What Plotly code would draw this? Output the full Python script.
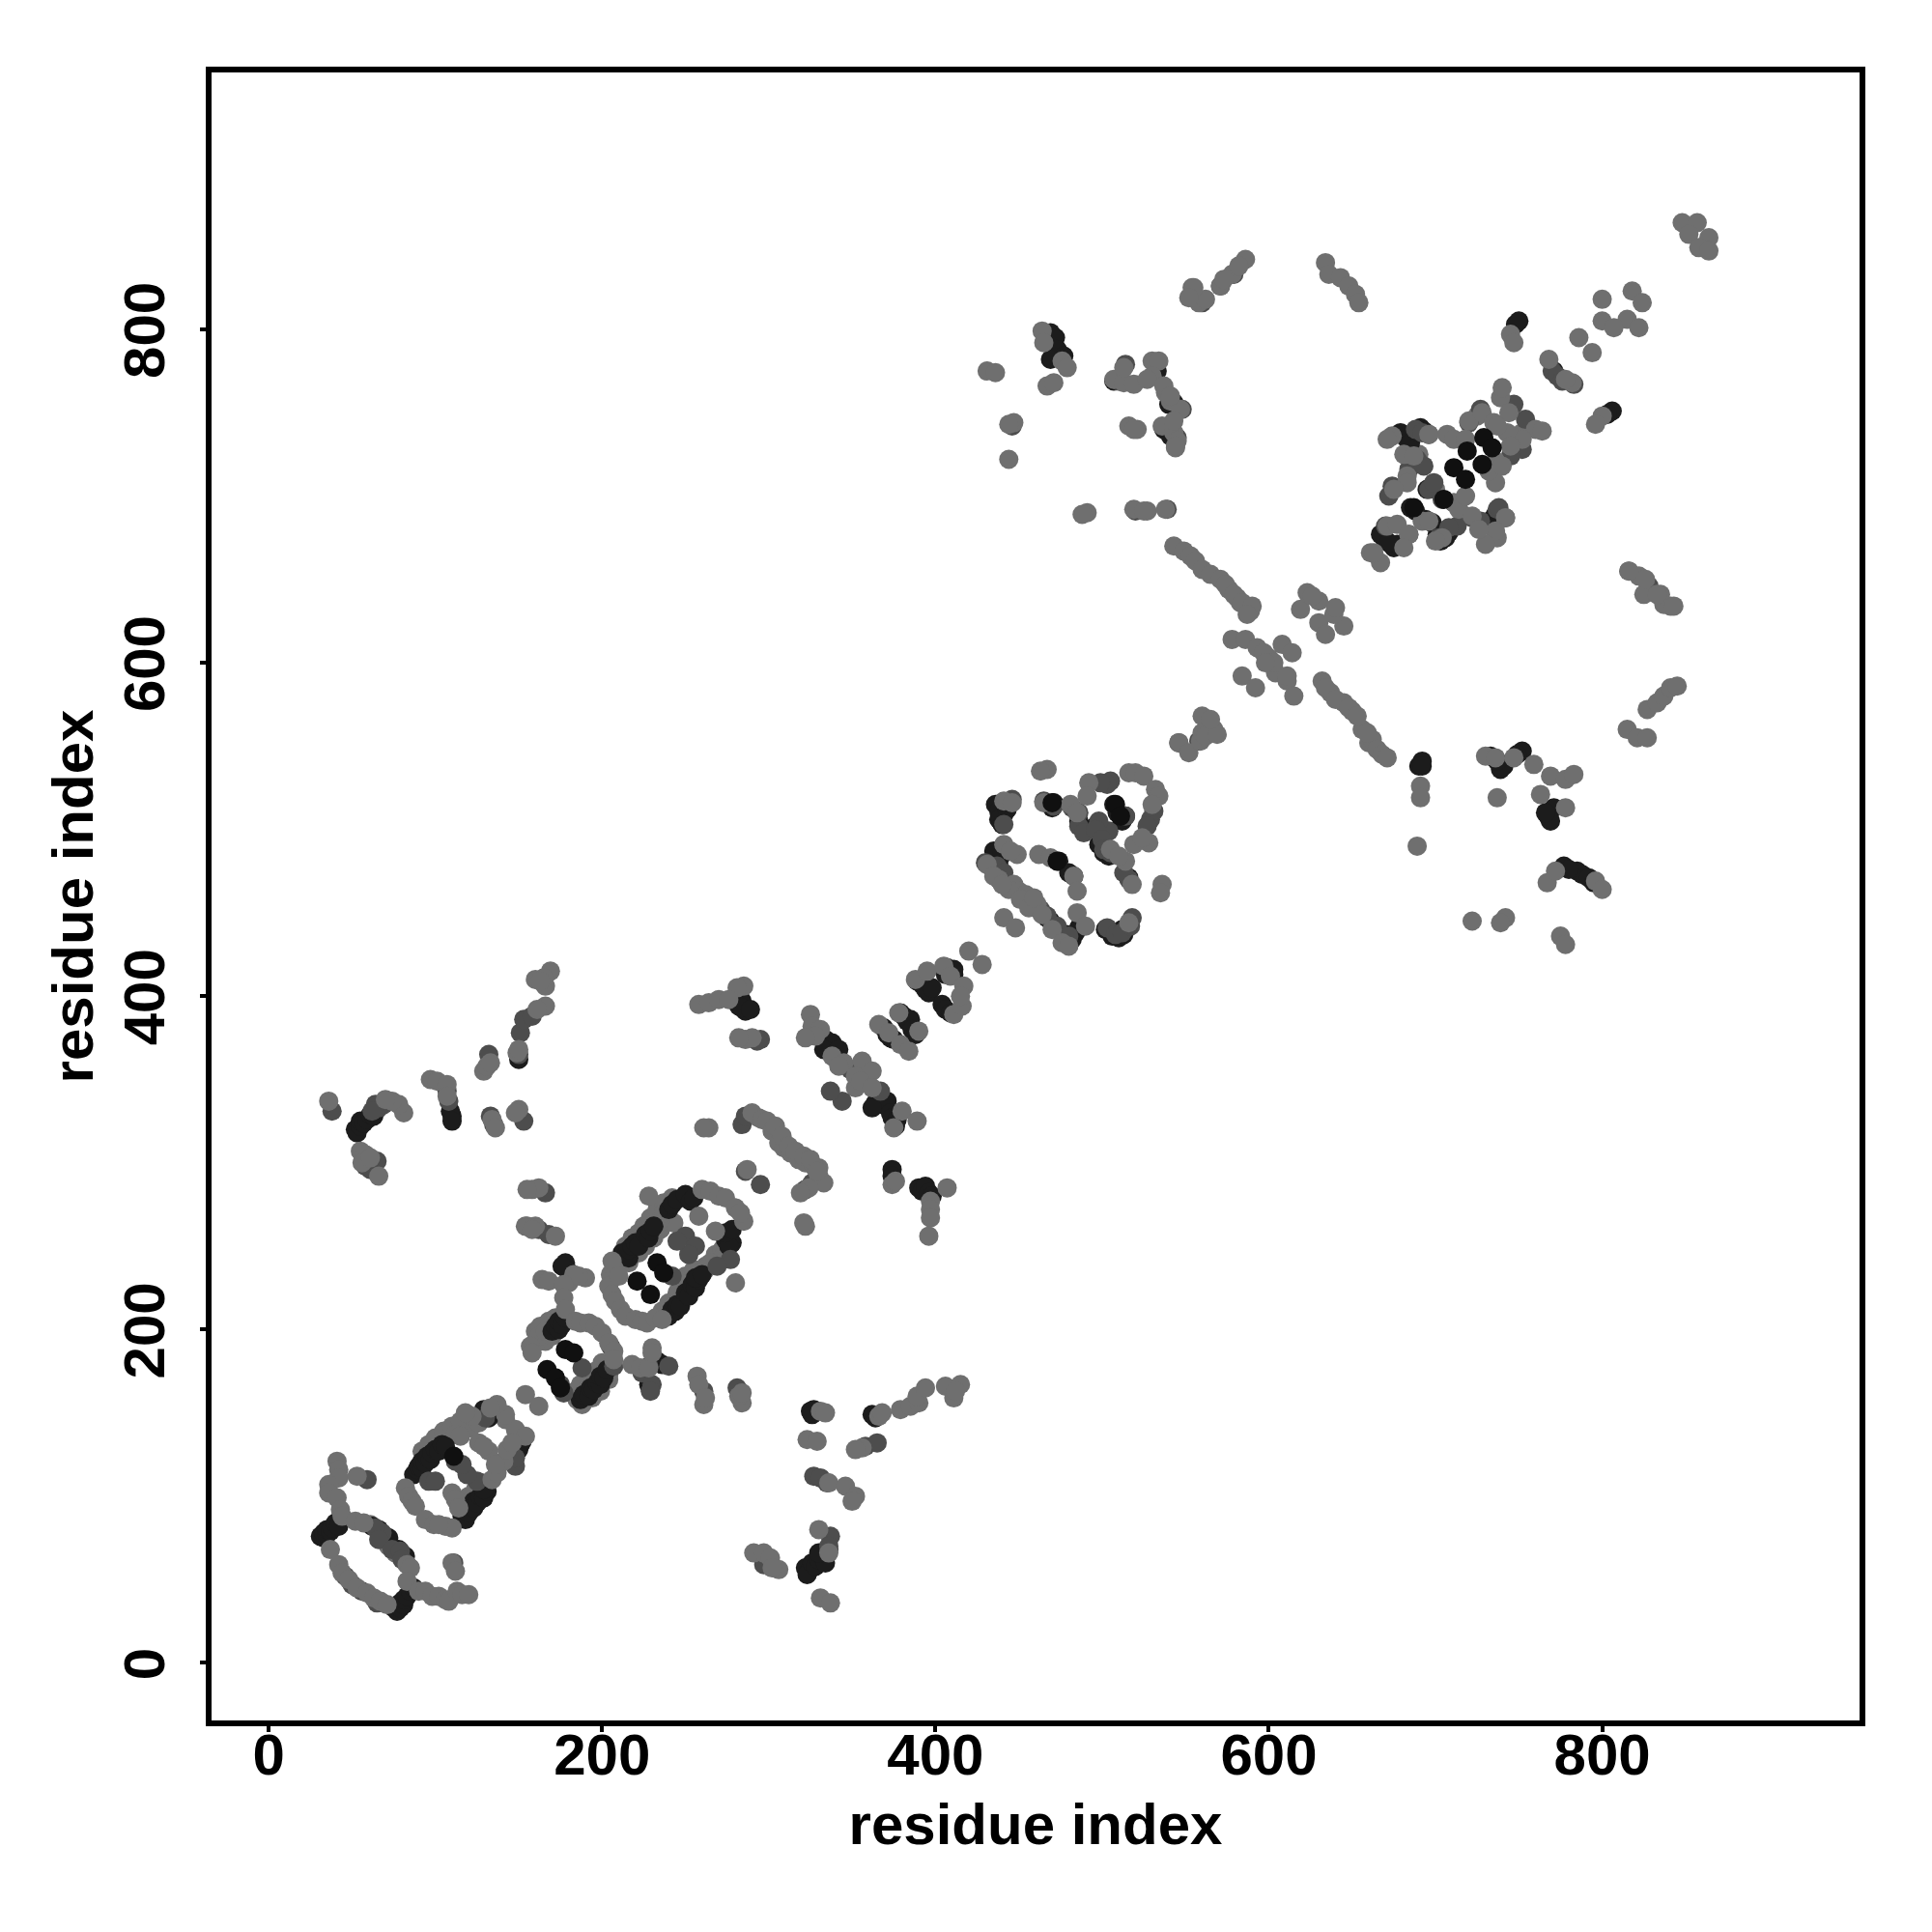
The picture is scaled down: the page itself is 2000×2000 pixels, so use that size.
import plotly.graph_objects as go

# residue-index pairs (x, y), by grey level and region
dark_low = [
 (31,76),(33,75),(33,78),(35,77),(35,80),(37,79),(38,81),(40,84),(42,82),
 (75,33),(77,31),(77,34),(79,33),(79,36),(81,35),(81,38),(83,40),(85,43),(87,45),
 (87,113),(89,116),(90,118),(92,117),(92,121),(94,120),(95,124),(97,122),(98,126),(100,128),(102,127),(104,131),(106,130),
 (116,88),(118,86),(118,91),(120,90),(121,94),(123,93),(123,97),(125,96),(127,100),(129,99),(131,103),(129,104),
 (150,128),(151,131),(150,134),(152,133),(132,147),(131,150),(129,152),
 (170,199),(172,202),(174,200),(174,205),(176,203),(178,207),
 (187,158),(189,161),(192,160),(193,165),(195,164),(197,168),(199,167),(199,172),(201,171),(203,176),
 (212,246),(214,244),(216,243),(216,248),(218,250),(220,252),(222,250),(226,257),(228,255),(229,259),(231,262),
 (240,208),(242,212),(244,211),(245,215),(247,214),(250,222),(252,220),(254,227),(256,225),(258,230),(256,231),(260,233),
 (240,272),(242,275),(245,278),(250,281),(253,277),(255,279),
 (274,254),(276,256),(278,252),(276,250),(274,258),(278,260),
 (178,240),(179,236),(176,238),(233,181),(236,179),(229,164),(228,167),
 (62,82),(66,80),(70,76),(72,75),(78,68),(82,64),
]
dark_mid = [
 (52,320),(53,318),(55,322),(55,325),(57,324),(59,326),(61,329),(63,328),(65,332),
 (109,331),(110,328),(110,325),(150,362),(284,397),(282,394),(286,391),(284,393),(289,392),
 (325,151),(327,152),(326,149),(322,57),(324,55),(323,53),(326,60),(328,58),(330,62),(332,64),(334,60),(330,66),(336,68),
 (334,374),(336,370),(338,372),(333,368),(340,366),(342,368),(364,336),(366,339),(368,335),(371,337),(362,333),(373,330),(374,327),(377,326),(376,322),
 (381,388),(379,390),(383,385),(385,386),(386,380),(388,377),(369,381),(371,377),(373,375),(375,374),
 (389,409),(392,407),(394,404),(396,402),(398,405),(409,415),(407,417),(411,413),(404,395),(406,392),(409,390),
 (374,296),(374,292),(390,285),(392,283),(394,286),(396,282),(398,280),
 (362,149),(364,147),
 (692,541),(690,538),
]
dark_top_centre = [
 (469,798),(472,795),(473,788),(477,784),(469,782),(507,769),(533,775),(543,756),(540,755),(537,740),(541,736),
]
mid = [
 (59,110),(68,78),(64,81),(66,74),(74,68),(79,67),(80,62),(111,60),(96,109),(100,109),(112,121),(125,109),
 (119,113),(116,119),(130,147),(148,118),(148,123),
 (38,331),(66,333),(69,335),(64,335),(62,331),(58,298),(61,296),(65,301),
 (133,328),(135,323),(151,378),(153,386),(158,388),(150,365),(132,365),
 (107,343),(108,337),(166,282),(162,260),(168,257),(153,325),(295,287),(286,295),(295,374),(293,373),
 (250,256),(256,250),(252,245),(245,253),(277,242),(269,238),(242,232),
 (207,178),(205,190),(224,174),(230,167),(229,163),(228,178),(240,178),(175,167),(177,162),(188,177),(261,163),(281,165),
 (337,76),(336,70),(297,59),(301,61),(327,112),(331,111),(335,108),(358,130),(365,132),(344,337),(337,343),(349,356),(367,343),
 (284,323),(286,328),(322,284),(326,288),
 (46,52),(50,47),(56,43),(65,36),
]
mid_high = [
 (546,552),(558,553),(441,503),(446,518),(505,529),(503,527),(499,528),(529,506),(531,511),(527,502),(514,508),(504,499),(498,505),
 (471,514),(465,517),(486,510),(482,513),(486,502),(489,498),(496,500),(500,494),(501,488),(505,486),(516,470),(513,474),
 (467,448),(463,452),(473,442),(480,436),(503,441),(508,437),(512,438),(517,442),(518,447),
 (684,716),(689,722),(693,718),(696,704),(699,708),(674,706),(672,700),(704,698),(711,696),(688,740),(692,738),(696,737),(670,682),(684,677),
 (718,688),(722,687),(727,685),(713,682),(708,681),(702,675),(720,744),(727,752),(747,755),(754,746),(752,728),(745,724),(737,692),(742,687),(738,693),
 (828,646),(770,775),(773,772),(776,769),(783,767),(430,480),(437,478),(441,474),(447,466),
 (514,779),(560,816),(571,826),(579,833),(520,691),(539,692),(446,742),(510,769),(548,752),(545,735),
]
dark_high = [
 (436,515),(438,511),(441,509),(438,506),(440,503),(443,512),(471,516),(470,513),
 (436,484),(438,481),(435,487),(440,485),(434,477),(438,478),(462,452),(467,447),(469,445),
 (478,433),(480,431),(482,434),(478,437),(484,438),(486,441),(502,440),(506,436),(510,435),(513,437),(512,440),
 (474,481),(480,474),(483,472),(514,508),(512,505),(507,515),
 (509,510),(496,502),(491,500),(486,505),(498,491),(501,486),(504,484),(516,471),
 (681,736),(679,738),(683,734),(685,732),(689,738),(691,741),(693,739),
 (669,675),(667,677),(675,669),(677,671),(672,672),(694,686),(698,684),(701,677),(703,673),(706,675),(708,678),(695,704),
 (685,693),(688,691),(730,684),(734,686),(736,689),(738,691),
 (748,803),(750,805),(806,751),(803,749),(771,775),(776,770),(692,538),
 (785,475),(788,473),(777,478),(780,476),(792,471),(795,468),
 (771,513),(768,507),(769,505),(766,510),(741,538),(739,536),(737,541),(752,547),(749,545),(733,544),
 (411,416),(406,413),
]
light_low = [
 (41,121),(42,116),(42,111),(36,107),(36,102),(41,99),(43,92),(44,88),(53,112),
 (52,85),(57,84),(83,59),(85,57),(83,49),(37,68),(42,59),(44,54),(48,50),(53,45),(59,42),(63,39),(67,37),(71,35),
 (90,43),(94,43),(98,40),(102,40),(106,38),(108,37),(113,43),(116,41),(120,41),(110,60),(112,55),
 (82,105),(84,100),(86,97),(88,94),(94,86),(99,83),(106,82),(110,81),(102,83),
 (110,102),(112,98),(114,93),(134,110),(137,114),(141,121),(148,140),(154,136),(142,149),(137,155),(133,153),(122,148),(118,150),(126,132),(132,127),(129,130),
 (154,161),(162,154),(158,284),(162,285),(154,262),(160,262),(172,256),
 (136,119),(143,128),(146,132),
 (164,230),(168,229),(190,231),(186,232),(183,233),(177,227),(177,219),(178,212),(157,190),(158,186),
 (184,205),(187,204),(192,204),(196,202),(200,198),(204,192),(207,187),(207,182),
 (218,179),(223,177),(228,177),(230,189),(230,186),
 (204,226),(206,221),(208,217),(211,212),(214,208),(220,206),(224,205),(227,204),(232,207),(236,206),(207,237),(206,241),(210,232),
 (228,280),(260,284),(265,283),(270,280),(274,279),(280,273),(285,265),(283,270),(280,228),(287,296),
 (258,268),(268,259),
 (257,172),(258,167),(261,155),(262,159),(284,156),(282,160),(284,162),
 (36,337),(81,330),(78,335),(74,337),(70,338),(55,307),(58,305),(56,300),(61,303),(66,292),
 (97,350),(101,349),(107,347),(107,340),(129,355),(131,358),(133,360),(149,366),(150,368),
 (166,394),(161,392),(160,410),(166,406),(169,415),(165,411),(163,409),
 (134,326),(136,321),(150,332),(148,330),
 (155,284),(155,262),(158,260),
 (258,395),(264,396),(270,398),(285,406),(281,405),(276,398),(286,374),(290,375),(282,375),(264,321),(261,321),(294,327),(290,330),
 (296,326),(299,325),(302,319),(306,312),(309,309),(313,306),(318,302),(322,300),(327,298),(330,292),(333,288),(324,285),(321,264),(322,262),(319,282),
 (304,322),(308,316),(312,310),(316,307),(321,304),(325,302),(329,295),
]
# grey rims that sit underneath the dark bands
light_band = [
 (222,258),(225,262),(229,267),(233,272),(237,276),(214,250),(218,255),(222,246),(226,250),(231,255),(235,260),(239,265),
 (250,232),(255,236),(262,238),(268,245),(272,248),(245,222),(249,227),(236,211),(240,216),
 (120,100),(124,104),(128,108),(118,96),(92,127),(96,131),(100,135),(105,139),(110,142),(115,145),(112,137),(121,141),(126,144),
 (160,199),(163,202),(168,205),(172,207),(166,193),(170,196),(184,163),(187,167),(192,171),(196,175),(200,180),(190,163),
 (142,146),(180,228),(205,233),(243,264),(216,240),(352,345),(330,297),(725,748),(752,738),(690,725),(700,704),
 (61,83),(72,70),(76,66),(160,192),(162,196),(166,199),(185,158),(188,155),(194,159),(199,163),(204,173),(204,170),
 (235,266),(237,270),(242,279),(250,280),(272,243),(265,240),(262,236),(115,136),
]
light_mid = [
 (325,389),(326,382),(331,380),(328,376),(322,375),(338,364),(345,360),(342,358),(356,361),(362,355),(352,352),(355,349),(362,345),(380,331),(375,321),(389,325),
 (366,383),(372,378),(379,371),(384,367),(378,390),(390,379),(388,410),(395,415),(405,418),(409,412),(417,406),(411,389),(416,394),(415,400),
 (420,427),(428,419),(374,287),(376,289),(407,285),(397,277),(397,272),(397,267),(396,256),
 (331,151),(334,150),(323,134),(329,133),(356,129),(352,128),(366,148),(368,150),(379,152),(385,154),(390,156),(389,160),(394,165),(406,166),(411,159),(415,167),(412,163),
 (336,108),(346,106),(352,100),(350,97),(330,80),(336,66),(331,39),(337,36),(291,66),(297,66),(301,63),(306,56),(302,57),
 (546,552),(552,546),(559,553),(560,558),(560,568),(567,560),(562,556),(569,557),(565,566),
 (467,536),(463,535),(465,516),(441,517),(446,516),(492,528),(491,520),(516,534),(520,534),(525,532),(532,524),(534,520),(530,515),(528,492),(519,491),(524,495),
 (481,515),(485,510),(505,488),(514,481),(510,484),(518,467),(536,467),(535,462),
 (441,491),(449,485),(445,487),(431,479),(438,470),(447,467),(450,463),(454,461),(458,457),(461,455),(470,440),(462,485),(469,483),(483,472),(485,463),(485,450),(490,442),(441,447),(448,441),
 (476,432),(480,430),(516,444),
 (661,666),(667,660),(671,682),(677,683),(684,677),(681,669),(704,675),(707,737),(711,734),(696,737),(674,736),(671,734),
 (681,725),(687,724),(683,712),(683,708),(675,704),(692,685),(696,685),(711,696),(714,692),(718,700),
 (718,734),(720,745),(728,750),(735,744),(739,759),(740,765),(744,750),(760,740),(764,739),(752,734),(743,738),(737,742),(745,730),(736,721),(736,708),(732,715),(740,718),
 (742,687),(737,675),(736,679),(730,671),(722,688),(726,680),(700,673),
 (444,464),(451,458),(456,453),(459,459),(464,449),(435,472),(440,467),
]
light_high = [
 (786,795),(794,786),(768,782),(782,768),(778,770),(800,748),(796,743),(816,655),(822,652),(825,641),(835,641),(841,634),(837,635),(745,797),(747,792),
 (848,864),(857,864),(852,857),(864,855),(858,849),(864,847),(800,818),(800,805),(818,823),(824,816),(815,806),(822,801),(807,801),
 (634,840),(636,833),(643,831),(648,826),(652,821),(654,816),(554,825),(558,816),(571,826),(578,833),(586,842),(562,818),
 (431,775),(436,774),(447,744),(444,743),(444,722),(464,799),(476,781),(479,777),(467,766),(471,768),
 (507,770),(513,768),(513,777),(530,781),(534,781),(530,772),(519,767),(538,762),(541,757),(547,752),(516,742),(521,740),(536,742),(543,738),(545,733),(544,729),
 (491,690),(488,689),(519,692),(527,691),(538,692),
 (543,670),(549,667),(553,664),(556,661),(560,656),(565,653),(571,650),(576,644),(581,639),(583,636),(586,634),(589,631),
 (578,614),(586,614),(593,609),(600,603),(608,611),(614,606),(604,594),(611,589),(615,580),(584,592),(592,585),
 (619,632),(623,642),(630,637),(630,624),(634,617),(645,622),(639,629),
 (632,589),(637,582),(645,576),(650,571),(656,560),(660,552),(662,554),(665,548),(668,545),(671,543),
 (691,526),(691,519),(689,490),(730,544),(736,543),(747,543),(759,539),(769,532),(778,530),(783,533),(763,521),(778,513),(737,519),
 (722,445),(742,447),(739,444),(767,468),(772,475),(796,469),(800,464),(775,436),(778,431),
 (663,666),(816,655),(826,650),(833,641),(843,634),(815,560),(821,555),(827,555),(827,572),(833,576),(837,580),(841,585),(845,586),
 (465,792),(527,770),(537,766),(541,760),(543,745),(544,730),(519,740),(555,825),(552,819),(573,830),(582,838),(525,691),
 (574,647),(579,641),(584,636),(590,634),(587,629),(634,585),(640,578),(648,573),(653,568),(659,558),
 (597,606),(603,600),(611,592),(598,600),(640,633),(626,640),
]
black = [
 (167,176),(172,171),(233,240),(221,229),(229,221),(237,234),(178,188),(183,186),
 (175,165),(111,124),
 (508,515),(511,508),(473,481),(470,516),
 (719,727),(729,735),(734,729),(728,719),(711,717),(718,710),(687,693),(705,698),
]
tick_values = [0, 200, 400, 600, 800]

layers = [
 (light_band, "#6f6f6f"),
 (dark_low + dark_mid + dark_high + dark_top_centre, "#1c1c1c"),
 (mid + mid_high, "#4d4d4d"),
 (light_low + light_mid + light_high, "#6f6f6f"),
 (black, "#101010"),
]

fig = go.Figure()
for pts, col in layers:
    fig.add_trace(go.Scatter(x=[p[0] for p in pts], y=[p[1] for p in pts], mode="markers",
                             marker=dict(size=20, color=col, line=dict(width=0)),
                             showlegend=False, hoverinfo="skip"))

font = dict(family="Liberation Sans, Arial, sans-serif", size=60, color="black", weight="bold")
axis = dict(tickvals=tick_values, ticks="outside", ticklen=6, tickwidth=4,
            tickcolor="black", showline=True, linewidth=5.5, linecolor="black", mirror=True,
            showgrid=False, zeroline=False, tickfont=font)
fig.update_xaxes(**axis, range=[-34.3, 954.4], ticklabelstandoff=-28,
                 title=dict(text="residue index", font=font, standoff=20))
fig.update_yaxes(**axis, range=[-34.5, 954.1], tickangle=-90, ticklabelstandoff=13, ticklabelshift=10,
                 title=dict(text="residue index", font=font, standoff=2))
fig.update_layout(width=2000, height=2000, autosize=False, paper_bgcolor="white", plot_bgcolor="white",
                  margin=dict(l=218.5, r=74.5, t=74.5, b=218.5, autoexpand=False))
fig.write_html("out.html", config=dict(displayModeBar=False), post_script="document.body.style.margin='0';")
